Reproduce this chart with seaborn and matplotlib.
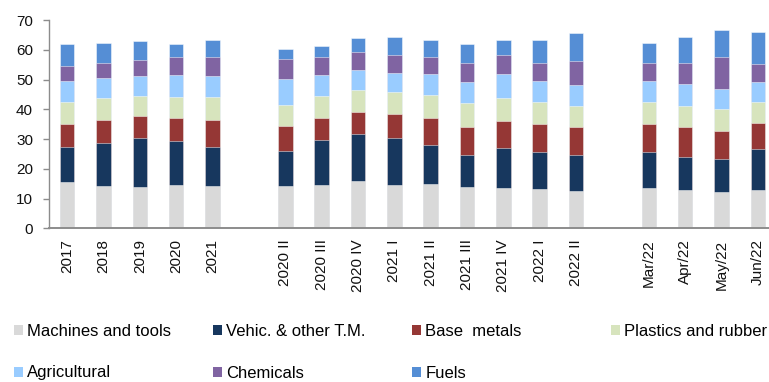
import matplotlib
matplotlib.use("Agg")
import matplotlib.pyplot as plt
import numpy as np
import pandas as pd
import seaborn as sns
from matplotlib.patches import Patch

# Period labels: annual, quarterly and monthly blocks
annual = ["2017", "2018", "2019", "2020", "2021"]
quarterly = ["2020 II", "2020 III", "2020 IV", "2021 I", "2021 II",
             "2021 III", "2021 IV", "2022 I", "2022 II"]
monthly = ["Mar/22", "Apr/22", "May/22", "Jun/22"]
periods = annual + quarterly + monthly

# Values per product group (stacked bottom to top)
machines = [15.4, 14.3, 13.8, 14.7, 14.3,
            14.2, 14.4, 15.8, 14.7, 14.9, 14.0, 13.7, 13.2, 12.6,
            13.5, 12.8, 12.2, 12.8]
vehicles = [11.8, 14.2, 16.5, 14.7, 13.1,
            11.9, 15.4, 15.9, 15.5, 13.0, 10.7, 13.4, 12.4, 12.1,
            12.1, 11.3, 11.1, 13.8]
base_metals = [7.9, 8.0, 7.3, 7.6, 8.9,
               8.2, 7.4, 7.5, 8.3, 9.1, 9.4, 8.9, 9.4, 9.3,
               9.5, 9.9, 9.5, 8.7]
plastics = [7.5, 7.4, 7.0, 7.1, 7.7,
            7.3, 7.2, 7.3, 7.3, 7.9, 7.9, 7.7, 7.6, 7.2,
            7.5, 7.2, 7.2, 7.3]
agricultural = [6.9, 6.5, 6.6, 7.3, 7.2,
                8.5, 7.1, 6.8, 6.5, 6.8, 7.3, 8.1, 6.9, 6.8,
                6.8, 7.4, 6.7, 6.5]
chemicals = [4.9, 5.1, 5.5, 6.0, 6.2,
             6.8, 6.0, 6.0, 5.9, 6.0, 6.2, 6.3, 6.1, 8.2,
             6.1, 6.9, 10.8, 6.1]
fuels = [7.4, 6.7, 6.3, 4.7, 5.8,
         3.2, 3.7, 4.5, 6.2, 5.6, 6.4, 5.2, 7.8, 9.4,
         6.8, 8.8, 9.1, 10.6]

series_names = ["Machines and tools", "Vehic. & other T.M.", "Base  metals",
                "Plastics and rubber", "Agricultural", "Chemicals", "Fuels"]
series_values = [machines, vehicles, base_metals, plastics,
                 agricultural, chemicals, fuels]
colors = ["#D9D9D9", "#17375E", "#953735", "#D7E4BD",
          "#99CCFF", "#8064A2", "#558ED5"]

# Long table with the running total of each stack layer
wide = pd.DataFrame(dict(zip(series_names, series_values)), index=periods)
cum = wide.cumsum(axis=1)
long = (cum.reset_index(names="period")
        .melt(id_vars="period", var_name="product", value_name="top"))

# Category order with empty slots separating the blocks
order = annual + [" "] + quarterly + ["  "] + monthly

font = "Liberation Sans"
plt.rcParams["font.family"] = [font, "DejaVu Sans"]

fig = plt.figure(figsize=(7.69, 3.82), dpi=100)
ax = fig.add_axes([49 / 769, (382 - 228.3) / 382, (776 - 49) / 769,
                   (228.3 - 20) / 382])

# Draw from the top layer down so each lower layer covers the one above
for name, col in reversed(list(zip(series_names, colors))):
    sns.barplot(data=long[long["product"] == name], x="period", y="top",
                order=order, color=col, saturation=1, width=0.4,
                errorbar=None, edgecolor=(1, 1, 1, 0.55), linewidth=0.6,
                ax=ax)

ax.set_xlim(-0.5, len(order) - 0.5)
ax.set_ylim(0, 70)
ax.set_yticks(np.arange(0, 71, 10))
ax.set_xlabel("")
ax.set_ylabel("")

for side in ("top", "right"):
    ax.spines[side].set_visible(False)
ax.spines["left"].set_color("#8C8C8C")
ax.spines["left"].set_linewidth(1.0)
ax.spines["bottom"].set_color("#8C8C8C")
ax.spines["bottom"].set_linewidth(1.4)
ax.spines["bottom"].set_zorder(5)

ax.tick_params(axis="y", length=4.5, width=1.0, color="#8C8C8C",
               labelsize=11, pad=7, labelcolor="#111111")
ax.tick_params(axis="x", length=0, pad=8, labelsize=11,
               labelcolor="#111111", labelrotation=90)

# Legend: fixed grid of entries, four per row
legend_x = [14, 213, 412, 611]
legend_y = [331, 373]
for i, (name, col) in enumerate(zip(series_names, colors)):
    r, c = divmod(i, 4)
    fig.legend(handles=[Patch(facecolor=col, edgecolor="none")],
               labels=[name], loc="center left",
               bbox_to_anchor=(legend_x[c] / 769, (382 - legend_y[r]) / 382),
               frameon=False, fontsize=12, handlelength=0.55,
               handleheight=0.55, handletextpad=0.25, borderpad=0,
               borderaxespad=0)

fig.savefig("out.png", dpi=100)
